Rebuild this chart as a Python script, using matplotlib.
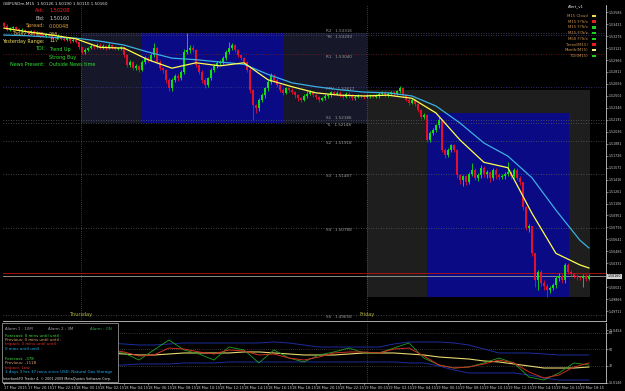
import matplotlib
matplotlib.use('Agg')
import matplotlib.pyplot as plt
from matplotlib.patches import Rectangle
import numpy as np

# GBPUSD M15 bars (open of each bar = close of the previous one)
first_open = 1.5344
closes = [1.5341, 1.5336, 1.5338, 1.5339, 1.5337, 1.5334, 1.5336, 1.5333,
          1.5332, 1.5334, 1.5330, 1.5332, 1.5329, 1.5328, 1.5330, 1.5328,
          1.5326, 1.5325, 1.5328, 1.5324, 1.5323, 1.5325, 1.5321, 1.5323,
          1.5320, 1.5313, 1.5307, 1.5310, 1.5312, 1.5315, 1.5313, 1.5316,
          1.5313, 1.5315, 1.5312, 1.5316, 1.5313, 1.5311, 1.5312, 1.5313,
          1.5303, 1.5290, 1.5294, 1.5286, 1.5289, 1.5284, 1.5294, 1.5299,
          1.5297, 1.5303, 1.5312, 1.5294, 1.5286, 1.5284, 1.5271, 1.5260,
          1.5271, 1.5276, 1.5273, 1.5281, 1.5307, 1.5310, 1.5312, 1.5310,
          1.5290, 1.5281, 1.5271, 1.5264, 1.5273, 1.5284, 1.5289, 1.5293,
          1.5294, 1.5299, 1.5307, 1.5312, 1.5316, 1.5310, 1.5303, 1.5299,
          1.5294, 1.5284, 1.5258, 1.5238, 1.5234, 1.5245, 1.5251, 1.5260,
          1.5268, 1.5276, 1.5271, 1.5264, 1.5258, 1.5254, 1.5260, 1.5258,
          1.5255, 1.5251, 1.5247, 1.5245, 1.5250, 1.5253, 1.5255, 1.5251,
          1.5249, 1.5245, 1.5247, 1.5250, 1.5251, 1.5255, 1.5253, 1.5254,
          1.5251, 1.5249, 1.5253, 1.5250, 1.5247, 1.5249, 1.5251, 1.5250,
          1.5249, 1.5250, 1.5251, 1.5249, 1.5250, 1.5253, 1.5254, 1.5251,
          1.5253, 1.5255, 1.5253, 1.5256, 1.5260, 1.5251, 1.5245, 1.5241,
          1.5245, 1.5240, 1.5232, 1.5223, 1.5225, 1.5193, 1.5202, 1.5206,
          1.5212, 1.5219, 1.5180, 1.5173, 1.5180, 1.5186, 1.5180, 1.5147,
          1.5141, 1.5146, 1.5138, 1.5149, 1.5154, 1.5144, 1.5147, 1.5157,
          1.5149, 1.5151, 1.5144, 1.5154, 1.5147, 1.5145, 1.5146, 1.5149,
          1.5151, 1.5146, 1.5154, 1.5144, 1.5138, 1.5106, 1.5079, 1.5081,
          1.5046, 1.5011, 1.5022, 1.5008, 1.5004, 1.4999, 1.5001, 1.5005,
          1.5014, 1.5017, 1.5011, 1.5031, 1.5022, 1.5019, 1.5017, 1.5015,
          1.5014, 1.5017, 1.5013, 1.5016]
highs = [1.5346, 1.5343, 1.5340, 1.5341, 1.5341, 1.5338, 1.5338, 1.5337,
         1.5335, 1.5336, 1.5335, 1.5334, 1.5333, 1.5331, 1.5332, 1.5331,
         1.5329, 1.5328, 1.5330, 1.5329, 1.5326, 1.5327, 1.5326, 1.5325,
         1.5325, 1.5321, 1.5314, 1.5312, 1.5314, 1.5317, 1.5317, 1.5318,
         1.5318, 1.5317, 1.5316, 1.5318, 1.5317, 1.5315, 1.5314, 1.5315,
         1.5314, 1.5304, 1.5296, 1.5295, 1.5291, 1.5290, 1.5296, 1.5302,
         1.5301, 1.5306, 1.5319, 1.5313, 1.5296, 1.5288, 1.5285, 1.5273,
         1.5273, 1.5278, 1.5279, 1.5284, 1.5311, 1.5332, 1.5316, 1.5316,
         1.5311, 1.5292, 1.5283, 1.5273, 1.5275, 1.5286, 1.5291, 1.5295,
         1.5297, 1.5302, 1.5309, 1.5320, 1.5318, 1.5317, 1.5311, 1.5305,
         1.5301, 1.5295, 1.5286, 1.5259, 1.5240, 1.5247, 1.5254, 1.5262,
         1.5271, 1.5280, 1.5278, 1.5273, 1.5266, 1.5260, 1.5262, 1.5262,
         1.5260, 1.5257, 1.5253, 1.5249, 1.5252, 1.5256, 1.5258, 1.5257,
         1.5253, 1.5250, 1.5249, 1.5252, 1.5253, 1.5257, 1.5257, 1.5256,
         1.5256, 1.5253, 1.5255, 1.5255, 1.5252, 1.5251, 1.5253, 1.5253,
         1.5252, 1.5252, 1.5253, 1.5253, 1.5252, 1.5255, 1.5256, 1.5256,
         1.5255, 1.5257, 1.5257, 1.5258, 1.5263, 1.5262, 1.5253, 1.5247,
         1.5247, 1.5247, 1.5241, 1.5233, 1.5228, 1.5226, 1.5204, 1.5208,
         1.5214, 1.5223, 1.5220, 1.5182, 1.5182, 1.5188, 1.5188, 1.5181,
         1.5149, 1.5148, 1.5148, 1.5151, 1.5163, 1.5156, 1.5150, 1.5160,
         1.5159, 1.5154, 1.5153, 1.5156, 1.5156, 1.5150, 1.5149, 1.5151,
         1.5164, 1.5153, 1.5156, 1.5156, 1.5146, 1.5139, 1.5108, 1.5084,
         1.5082, 1.5047, 1.5025, 1.5024, 1.5012, 1.5006, 1.5004, 1.5008,
         1.5017, 1.5020, 1.5019, 1.5034, 1.5033, 1.5024, 1.5021, 1.5019,
         1.5017, 1.5019, 1.5019, 1.5019]
lows = [1.5339, 1.5334, 1.5334, 1.5336, 1.5335, 1.5332, 1.5333, 1.5331,
        1.5330, 1.5330, 1.5328, 1.5329, 1.5327, 1.5326, 1.5327, 1.5326,
        1.5324, 1.5323, 1.5324, 1.5322, 1.5321, 1.5321, 1.5319, 1.5320,
        1.5318, 1.5311, 1.5304, 1.5305, 1.5308, 1.5311, 1.5311, 1.5312,
        1.5311, 1.5311, 1.5310, 1.5311, 1.5311, 1.5309, 1.5309, 1.5310,
        1.5301, 1.5287, 1.5288, 1.5283, 1.5284, 1.5281, 1.5282, 1.5292,
        1.5294, 1.5295, 1.5301, 1.5291, 1.5283, 1.5280, 1.5267, 1.5256,
        1.5257, 1.5268, 1.5270, 1.5271, 1.5279, 1.5305, 1.5306, 1.5307,
        1.5287, 1.5278, 1.5267, 1.5260, 1.5262, 1.5271, 1.5281, 1.5286,
        1.5290, 1.5292, 1.5297, 1.5305, 1.5309, 1.5307, 1.5300, 1.5296,
        1.5291, 1.5281, 1.5254, 1.5219, 1.5228, 1.5230, 1.5242, 1.5248,
        1.5257, 1.5265, 1.5268, 1.5261, 1.5255, 1.5251, 1.5252, 1.5255,
        1.5252, 1.5248, 1.5244, 1.5242, 1.5243, 1.5248, 1.5251, 1.5249,
        1.5246, 1.5242, 1.5243, 1.5245, 1.5248, 1.5249, 1.5251, 1.5251,
        1.5249, 1.5246, 1.5247, 1.5248, 1.5245, 1.5245, 1.5247, 1.5248,
        1.5246, 1.5247, 1.5248, 1.5247, 1.5247, 1.5248, 1.5251, 1.5249,
        1.5249, 1.5251, 1.5251, 1.5251, 1.5254, 1.5249, 1.5243, 1.5238,
        1.5239, 1.5237, 1.5229, 1.5220, 1.5220, 1.5190, 1.5190, 1.5199,
        1.5203, 1.5209, 1.5177, 1.5170, 1.5171, 1.5177, 1.5177, 1.5144,
        1.5136, 1.5133, 1.5134, 1.5136, 1.5146, 1.5141, 1.5140, 1.5144,
        1.5145, 1.5144, 1.5138, 1.5141, 1.5143, 1.5141, 1.5142, 1.5143,
        1.5146, 1.5143, 1.5144, 1.5141, 1.5135, 1.5102, 1.5076, 1.5074,
        1.5042, 1.5002, 1.4999, 1.5004, 1.4998, 1.4990, 1.4995, 1.4998,
        1.5001, 1.5010, 1.5008, 1.5008, 1.5019, 1.5016, 1.5014, 1.5012,
        1.5011, 1.5003, 1.5010, 1.5011]

# moving averages, read at every 8th bar
ma_bars = [0, 8, 16, 24, 32, 40, 48, 56, 64, 72, 80, 88, 96, 104, 112, 120,
           128, 136, 144, 152, 160, 168, 176, 184, 192, 195]
ma_fast = [1.5338, 1.5333, 1.5329, 1.5324, 1.5313, 1.5312, 1.5297, 1.5286,
           1.5293, 1.5289, 1.5293, 1.5271, 1.5262, 1.5254, 1.5251, 1.5250,
           1.5251, 1.5247, 1.5228, 1.5193, 1.5164, 1.5157, 1.5098, 1.5046,
           1.5031, 1.5027]
ma_slow = [1.5329, 1.5328, 1.5326, 1.5325, 1.5321, 1.5316, 1.5307, 1.5299,
           1.5297, 1.5294, 1.5291, 1.5278, 1.5267, 1.5262, 1.5258, 1.5255,
           1.5254, 1.5250, 1.5237, 1.5215, 1.5189, 1.5172, 1.5144, 1.5102,
           1.5063, 1.5053]

# pivot levels
pivot_names = ['R2', 'YH', 'R1', 'PPV', 'S1', 'YL', 'S2', 'S3', 'S4', 'S5']
pivot_values = [1.53316, 1.53290, 1.53040, 1.52617, 1.52186, 1.52148,
                1.51918, 1.51487, 1.50788, 1.49658]
pivot_colors = ['#4a4a78', '#4a4a78', '#7a2222', '#3a3a90', '#5a5a5a',
                '#5a5a5a', '#5a5a5a', '#5a5a5a', '#5a5a5a', '#5a5a5a']
pivot_above = ['R2', 'S1']

ask, bid = 1.50208, 1.50160

# day separators and session boxes (bar index / price)
day_sep = [25.7, 121.0]
day_names = ['Thursday', 'Friday']
range_boxes = [(25.7, 121.0, 1.52148, 1.53316, '#17172a'),
               (45.7, 93.0, 1.52148, 1.53316, '#0a0a84'),
               (121.0, 195.4, 1.49895, 1.52577, '#1e1e1e'),
               (141.0, 188.3, 1.49895, 1.52280, '#0a0a84')]

price_ticks = [1.53586, 1.53431, 1.53276, 1.53121, 1.52966, 1.52811, 1.52656,
               1.52501, 1.52346, 1.52191, 1.52036, 1.51881, 1.51726, 1.51571,
               1.51416, 1.51261, 1.51106, 1.50951, 1.50796, 1.50641, 1.50486,
               1.50331, 1.50021, 1.49866, 1.49711]

# TDI sub window, read every 5 bars
tdi_bars = [0, 5, 10, 15, 20, 25, 30, 35, 40, 45, 50, 55, 60, 65, 70, 75,
            80, 85, 90, 95, 100, 105, 110, 115, 120, 125, 130, 135, 140, 145,
            150, 155, 160, 165, 170, 175, 180, 185, 190, 195]
tdi_rsi = [49.5, 51.6, 47.3, 44.0, 40.7, 49.5, 54.9, 47.3, 46.2, 38.5,
           49.5, 60.4, 49.5, 45.1, 38.5, 52.7, 49.5, 35.3, 49.5, 40.7,
           36.4, 44.0, 47.3, 51.6, 46.2, 46.2, 51.6, 57.1, 40.7, 33.1,
           29.8, 30.9, 35.3, 40.7, 35.3, 20.0, 16.7, 24.4, 35.3, 33.1]
tdi_signal = [48.4, 49.5, 49.5, 46.2, 44.0, 46.2, 50.5, 49.5, 47.3, 42.9,
              44.0, 51.6, 50.5, 47.3, 45.1, 49.5, 48.4, 44.0, 45.1, 40.7,
              38.5, 41.8, 46.2, 47.3, 47.3, 46.2, 50.5, 51.6, 42.9, 33.1,
              29.8, 30.9, 34.2, 38.5, 35.3, 25.5, 18.9, 22.2, 30.9, 35.3]
tdi_base = [47.3, 47.3, 46.2, 46.2, 45.1, 45.1, 46.2, 46.2, 45.1, 44.0,
            44.0, 45.1, 46.2, 46.2, 46.2, 46.2, 47.3, 47.3, 46.2, 45.1,
            44.0, 44.0, 44.0, 45.1, 46.2, 46.2, 46.2, 45.1, 44.0, 41.8,
            40.7, 39.6, 37.5, 36.4, 34.2, 32.0, 29.8, 29.8, 29.8, 30.9]
tdi_upper = [56.0, 57.1, 56.0, 54.9, 53.8, 54.9, 56.0, 57.1, 56.0, 54.9,
             54.9, 56.0, 57.1, 57.1, 57.1, 57.1, 57.1, 57.1, 58.2, 57.1,
             54.9, 52.7, 52.7, 52.7, 52.7, 52.7, 56.0, 58.2, 58.2, 58.2,
             57.1, 54.9, 50.5, 46.2, 46.2, 46.2, 45.1, 44.0, 44.0, 44.0]
tdi_lower = [34.2, 33.1, 34.2, 35.3, 36.4, 35.3, 33.1, 32.0, 33.1, 34.2,
             34.2, 34.2, 35.3, 35.3, 35.3, 36.4, 36.4, 36.4, 36.4, 36.4,
             36.4, 36.4, 36.4, 36.4, 36.4, 36.4, 36.4, 35.3, 35.3, 32.0,
             27.6, 24.4, 24.4, 24.4, 24.4, 22.2, 18.9, 16.7, 16.7, 16.7]
tdi_levels = [68, 50, 32]

date_labels = ['17 Mar 2015', '17 Mar 20:15', '17 Mar 22:15', '18 Mar 00:15',
               '18 Mar 02:15', '18 Mar 04:15', '18 Mar 06:15', '18 Mar 08:15',
               '18 Mar 10:15', '18 Mar 12:15', '18 Mar 14:15', '18 Mar 16:15',
               '18 Mar 18:15', '18 Mar 20:15', '18 Mar 22:15', '19 Mar 00:15',
               '19 Mar 02:15', '19 Mar 04:15', '19 Mar 06:15', '19 Mar 08:15',
               '19 Mar 10:15', '19 Mar 12:15', '19 Mar 14:15', '19 Mar 16:15',
               '19 Mar 18:15']

legend_items = ['M15 Cloud', 'M15 F/Tr/x', 'M15 F/Tr/x', 'M15 F/Tr/x',
                'M60 F/Tr/x', 'Trend(M15)', 'Month(M15)', 'TDI(M15)']
legend_colors = ['#e8e040', '#e02020', '#20d020', '#20d020', '#20d020',
                 '#e02020', '#f0f080', '#20d020']

W, H = 625, 391


def fx(x):
    return x / W


def fy(y):
    return 1 - y / H


fig = plt.figure(figsize=(6.25, 3.91), dpi=100, facecolor='black')
ax = fig.add_axes([fx(3), fy(321), fx(606) - fx(3), fy(5) - fy(321)])
sub = fig.add_axes([fx(3), fy(383), fx(606) - fx(3), fy(323) - fy(383)])
for a in (ax, sub):
    a.set_facecolor('black')
    a.set_xlim(-0.33, 200.7)
    for s in ['top', 'left']:
        a.spines[s].set_visible(False)
    for s in ['right', 'bottom']:
        a.spines[s].set_color('#c8c8c8')
        a.spines[s].set_linewidth(0.6)

ax.set_ylim(1.49583, 1.53679)
sub.set_ylim(13.45, 78.9)

# boxes
for x0, x1, p0, p1, c in range_boxes:
    ax.add_patch(Rectangle((x0, p0), x1 - x0, p1 - p0, facecolor=c,
                           edgecolor='none', zorder=0))

for b in day_sep:
    ax.axvline(b, color='#707070', lw=0.5, ls=(0, (1, 2)), zorder=1)
    sub.axvline(b, color='#707070', lw=0.5, ls=(0, (1, 2)), zorder=1)
for b, name in zip(day_sep, day_names):
    ax.text(b, 1.4967, name, color='#b0b040', fontsize=3.6, ha='center',
            va='center', zorder=2)

for name, v, c in zip(pivot_names, pivot_values, pivot_colors):
    ax.axhline(v, color=c, lw=0.6, ls=(0, (1, 2)), zorder=1)
    if name in pivot_above:
        ax.text(107.5, v + 0.00002, '%s   %.5f' % (name, v), color='#9a9a9a',
                fontsize=3.0, va='bottom', ha='left', zorder=2)
    else:
        ax.text(107.5, v - 0.00003, '%s   %.5f' % (name, v), color='#9a9a9a',
                fontsize=3.0, va='top', ha='left', zorder=2)

# candles
opens = [first_open] + closes[:-1]
idx = np.arange(len(closes))
up = [c >= o for o, c in zip(opens, closes)]
cols = ['#10e010' if u else '#e01030' for u in up]
ax.vlines(idx, lows, highs, colors=cols, lw=0.6, zorder=3)
bodies = [max(abs(c - o), 0.00003) for o, c in zip(opens, closes)]
ax.bar(idx, bodies, bottom=[min(o, c) for o, c in zip(opens, closes)],
       width=0.65, color=cols, linewidth=0, zorder=3)

ax.plot(ma_bars, ma_slow, color='#3ab0e0', lw=0.9, zorder=4)
ax.plot(ma_bars, ma_fast, color='#ffff50', lw=0.9, zorder=4)

ax.axhline(ask, color='#c01010', lw=0.6, zorder=2)
ax.axhline(bid, color='#a0a0a0', lw=0.6, zorder=2)

# price axis
ax.yaxis.tick_right()
ax.set_yticks(price_ticks)
ax.set_yticklabels(['%.5f' % p for p in price_ticks])
ax.tick_params(axis='y', colors='#c8c8c8', labelsize=2.3, length=1.2,
               width=0.4, pad=0.5)
ax.set_xticks([])
ax.text(1.003, bid, '%.5f' % bid, transform=ax.get_yaxis_transform(),
        fontsize=2.3, color='black', va='center', ha='left',
        bbox=dict(facecolor='#d0d0d0', edgecolor='none', pad=0.3))

# info text in the chart corner
ax.text(fx(3), fy(4), 'GBPUSDm,M15  1.50126 1.50190 1.50110 1.50160',
        transform=fig.transFigure, color='#e0e0e0', fontsize=3.0,
        va='center', zorder=1)
info_rows = [('Ask:', '%.5f' % ask, '#ff2020', 11),
             ('Bid:', '%.5f' % bid, '#c8c8c8', 18),
             ('Spread:', '0.00048', '#e0a040', 26),
             ('Today Range:', '266', '#e0c060', 34),
             ('Yesterday Range:', '117', '#f0e060', 41),
             ('TDI:', 'Trend Up', '#30e030', 49),
             ('', 'Strong Buy', '#30e030', 57),
             ('News Present:', 'Outside News time', '#30e030', 64)]
for lab, val, c, yy in info_rows:
    ax.text(fx(45), fy(yy), lab, transform=fig.transFigure, color=c,
            fontsize=3.5, ha='right', va='center', zorder=2)
    ax.text(fx(49), fy(yy), val, transform=fig.transFigure, color=c,
            fontsize=3.5, ha='left', va='center', zorder=2)

fig.text(fx(584), fy(6), 'Alert_v1', color='#e0e0e0', fontsize=2.8,
         ha='right', va='center')
for k, (lab, c) in enumerate(zip(legend_items, legend_colors)):
    yy = 16 + 5.7 * k
    fig.text(fx(588), fy(yy), lab, color='#c89050', fontsize=2.8,
             ha='right', va='center')
    fig.patches.append(Rectangle((fx(592), fy(yy + 1.2)), fx(4), 2.4 / H,
                                 transform=fig.transFigure, facecolor=c,
                                 edgecolor='none'))

# TDI window
for lv in tdi_levels:
    sub.axhline(lv, color='#606060', lw=0.5, ls=(0, (1, 2)), zorder=1)
sub.plot(tdi_bars, tdi_upper, color='#1c2ca0', lw=0.7, zorder=2)
sub.plot(tdi_bars, tdi_lower, color='#1c2ca0', lw=0.7, zorder=2)
sub.plot(tdi_bars, tdi_base, color='#e8d870', lw=0.8, zorder=3)
sub.plot(tdi_bars, tdi_rsi, color='#20a020', lw=0.6, zorder=4)
sub.plot(tdi_bars, tdi_signal, color='#d03020', lw=0.7, zorder=4)
sub.yaxis.tick_right()
sub.set_yticks([71.0454] + tdi_levels + [13.9])
sub.set_yticklabels(['71.0454', '68', '50', '32', '13.0146'])
sub.tick_params(axis='y', colors='#c8c8c8', labelsize=2.3, length=1.2,
                width=0.4, pad=0.5)
sub.set_xticks(np.arange(0, 8 * len(date_labels), 8))
sub.set_xticklabels(date_labels, ha='left')
sub.tick_params(axis='x', colors='#c8c8c8', labelsize=2.6, length=1.5,
                width=0.4, pad=0.8)

# news box over the TDI window
box = Rectangle((fx(2), fy(382)), fx(116), 59 / H, transform=fig.transFigure,
                facecolor='black', edgecolor='#909090', lw=0.6, zorder=5)
fig.patches.append(box)
news = [('Alarm 1 : 10M', '#a0a0a0', 5, 329), ('Alarm 2 : 3M', '#a0a0a0', 48, 329),
        ('Alarm : ON', '#30a050', 90, 329),
        ('Forecast: 0 mins until until :', '#40e040', 5, 336),
        ('Previous: 0 mins until until :', '#e0a070', 5, 340),
        ('Impact: 0 mins until until :', '#e03030', 5, 344),
        ('0 mins until until :', '#20b0f0', 5, 349),
        ('Forecast: -378', '#40e040', 5, 359),
        ('Previous: -1118', '#e0a070', 5, 363),
        ('Impact: Low', '#e03030', 5, 368),
        ('3 days 3 hrs 37 mins since USD: Natural Gas Storage', '#20b0f0', 5, 372)]
for t, c, xx, yy in news:
    fig.text(fx(xx), fy(yy), t, color=c, fontsize=2.9, ha='left',
             va='center', zorder=6)
fig.text(fx(3), fy(379), 'InterbankFX Trader 4, \u00a9 2001-2009 MetaQuotes Software Corp.',
         color='#e0e0e0', fontsize=2.4, ha='left', va='center', zorder=6)

fig.savefig('out.png', dpi=100, facecolor='black')
